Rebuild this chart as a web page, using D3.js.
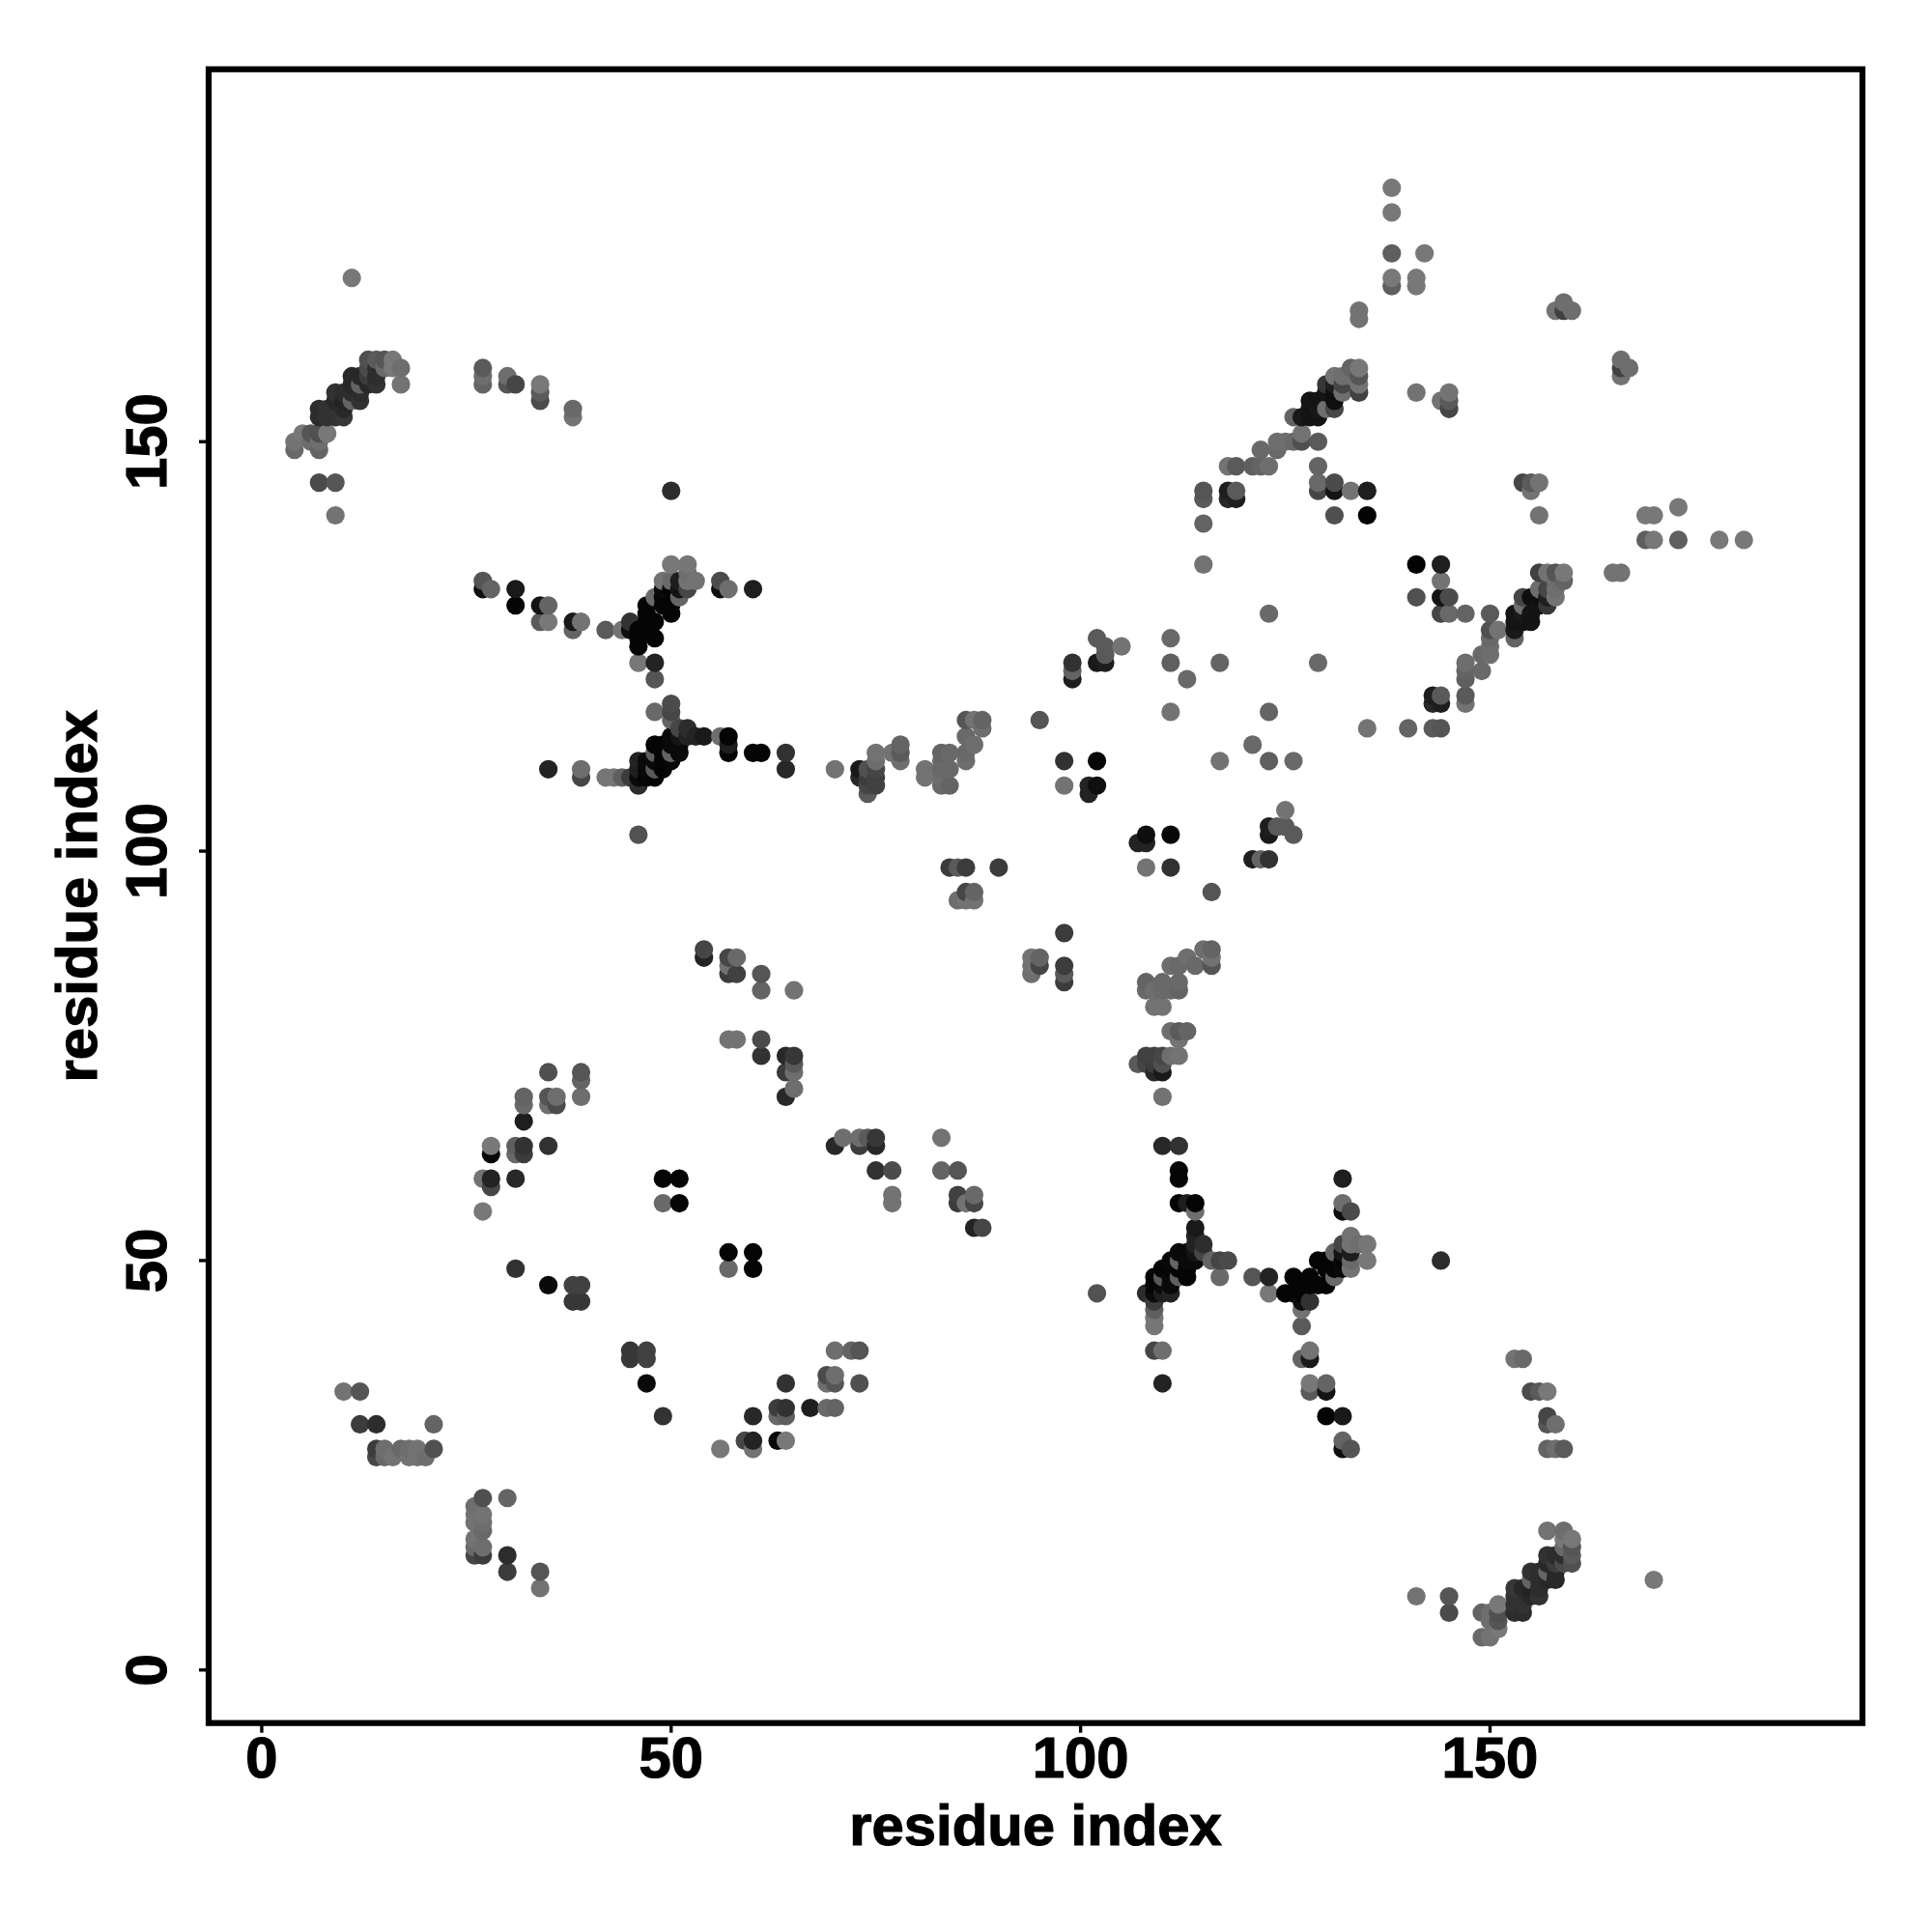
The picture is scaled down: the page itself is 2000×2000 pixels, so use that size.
<!DOCTYPE html>
<html><head><meta charset="utf-8">
<script src="https://cdn.jsdelivr.net/npm/d3@7/dist/d3.min.js"></script>
<style>html,body{margin:0;padding:0;background:#fff}svg{display:block}</style>
</head><body><svg id="c" width="2000" height="2000"></svg>
<script>
// Contacts as [residue i, residue j, grey shade]; the map is symmetric, so only i<j is listed.
const terminalContacts = [
[11,170,120],[4,149,105],[4,150,115],[5,151,120],[6,150,110],[6,151,85],[7,149,100],[7,150,110],[7,151,80],[8,151,120],
[7,153,45],[7,154,45],[8,153,50],[8,154,50],[9,153,50],[9,155,40],[9,156,50],[10,153,55],[10,154,40],[10,155,35],[10,156,45],
[11,155,100],[11,156,45],[11,157,40],[11,158,40],[12,155,50],[12,156,45],[12,157,100],[12,158,40],[13,157,40],[13,158,60],[13,159,75],[13,160,80],
[14,157,50],[14,158,45],[14,159,45],[14,160,90],[15,159,105],[15,160,85],[16,159,120],[16,160,120],[17,157,115],[17,159,110],
[7,145,75],[9,145,85],[9,141,115]
];
const earlyLongRange = [
[27,157,100],[27,158,110],[27,159,90],[30,157,85],[30,158,110],[31,157,70],[34,155,75],[34,156,90],[34,157,120],[38,153,115],[38,154,105],
[27,132,15],[27,133,85],[28,132,100],[31,130,5],[31,132,25],[34,128,90],[34,130,20],[35,128,120],[35,130,100],[38,127,100],[38,128,25],[39,128,115],[42,127,90],[44,127,115]
];
const upperCross = [
[45,127,15],[45,128,50],[46,123,120],[46,125,5],[46,126,5],[46,127,5],[47,127,5],[47,128,5],[47,129,5],[47,130,5],
[48,121,85],[48,123,35],[48,126,5],[48,128,5],[48,131,105],[49,130,5],[49,131,5],[49,132,10],[49,133,115],[50,129,5],[50,130,5],[50,132,5],[50,133,105],[50,135,120],
[51,131,100],[51,132,20],[51,133,30],[52,132,70],[52,133,115],[52,134,110],[52,135,118],[53,133,115],[56,132,15],[56,133,75],[57,132,110],[60,132,30],[50,144,45]
];
const lowerCross = [
[35,110,35],[39,109,70],[39,110,110],[42,109,118],[43,109,118],[44,109,95],[45,109,60],[46,102,82],[46,108,45],[46,109,10],[46,110,30],[46,111,35],
[47,109,5],[47,110,10],[47,111,10],[48,109,5],[48,110,90],[48,111,10],[48,112,95],[48,113,5],[49,110,5],[49,111,5],[49,112,5],[49,113,5],
[50,111,8],[50,112,100],[50,113,10],[50,114,10],[50,116,100],[50,117,70],[50,118,75],[48,117,105],[51,112,10],[51,113,10],[51,114,20],[51,115,70],
[52,114,35],[52,115,45],[53,114,35],[54,114,25],[56,114,110],[57,112,5],[57,113,30],[57,114,5],[60,112,5],[61,112,5],[64,110,40],[64,112,50]
];
const middleContacts = [
[70,110,115],[73,109,40],[73,110,25],[74,107,90],[74,108,70],[74,109,60],[74,110,80],[75,108,65],[75,109,65],[75,110,70],[75,111,110],[75,112,115],[77,112,115],[78,111,110],[78,112,90],[78,113,100],
[81,109,115],[81,110,115],[83,108,105],[83,109,110],[83,110,105],[83,111,105],[83,112,100],[84,108,100],[84,110,105],[84,112,105],[86,111,110],[86,112,105],[86,114,105],[87,113,110],[88,115,110],
[86,116,85],[87,116,115],[88,116,100],[95,116,85],[98,108,115],[98,111,50],[101,107,35],[101,108,35],[102,108,15],[102,111,8],
[84,98,60],[85,98,90],[86,98,60],[90,98,60],[85,94,110],[86,94,115],[86,95,70],[87,94,115],[87,95,100],
[99,121,30],[99,122,100],[99,123,50],[102,123,25],[102,126,90],[103,123,30],[103,124,90],[103,125,90],[105,125,115],
[111,117,115],[111,123,95],[111,126,105],[113,121,105],[117,123,100],[115,135,115],[115,140,100],[115,143,90],[115,144,85],
[118,143,40],[118,144,30],[119,143,30],[119,144,90],[118,147,115],[119,147,90],[121,147,95],[122,147,100],[123,147,110],[122,149,105],[123,129,105],
[124,149,105],[124,150,110],[125,150,110],[126,150,105],[127,150,80],[127,151,115],[129,150,90]
];
const secondCluster = [
[126,153,100],[127,153,25],[128,153,20],[128,154,20],[128,155,20],[129,153,20],[129,154,25],[129,155,20],[130,154,110],[130,156,20],[130,157,55],
[131,154,70],[131,155,15],[131,156,15],[131,157,30],[131,158,115],[132,156,110],[132,157,70],[132,158,110],[133,158,110],[133,159,100],[134,156,65],[134,157,115],[134,158,85],[134,159,120],
[134,165,115],[134,166,115],[129,144,70],[129,145,105],[129,147,100],[131,141,80],[131,144,20],[131,145,75],[133,144,115],[135,141,3],[135,144,30],
[141,156,115],[144,155,115],[145,154,70],[145,155,90],[145,156,115],
[138,169,95],[138,170,120],[138,173,95],[138,178,120],[138,181,120],[141,169,120],[141,170,120],[142,173,120],
[158,166,115],[159,166,65],[159,167,110],[160,166,110]
];
const hairpinContacts = [
[54,87,35],[54,88,70],[57,85,60],[57,86,115],[57,87,70],[58,85,65],[58,87,105],[57,77,115],[58,77,115],[61,75,50],[61,77,75],[61,83,100],[61,85,85],[65,83,115],
[64,70,40],[64,73,60],[64,75,40],[65,71,110],[65,73,110],[65,74,90],[65,75,55]
];
const sheetContacts = [
[35,73,80],[39,70,110],[39,72,100],[39,73,85],[32,67,30],[32,69,105],[32,70,100],[35,69,110],[35,70,85],[36,69,75],[36,70,110],
[28,63,8],[28,64,120],[31,63,105],[31,64,95],[32,63,60],[32,64,50],[35,64,50],[27,56,120],[27,60,115],[28,59,70],[28,60,35],[31,60,40],
[49,57,105],[49,60,5],[51,57,4],[51,60,4]
];
const shortRange = [
[31,49,50],[35,47,10],[38,45,55],[38,47,65],[39,45,55],[39,47,65]
];
const nTermContacts = [
[10,34,115],[12,34,85],[12,30,60],[14,30,45],[21,30,100],[14,26,70],[14,27,60],[15,26,105],[15,27,110],[16,26,115],[17,27,105],[18,26,115],[18,27,110],[19,26,115],[19,27,115],[20,26,110],[21,27,80]
];
const xTicks = [0, 50, 100, 150];
const yTicks = [0, 50, 100, 150];
const axisTitle = "residue index";

const upper = [].concat(terminalContacts, earlyLongRange, upperCross, lowerCross, middleContacts,
  secondCluster, hairpinContacts, sheetContacts, shortRange, nTermContacts);
const points = upper.flatMap(d => [{x:d[0], y:d[1], g:d[2]}, {x:d[1], y:d[0], g:d[2]}])
  .sort((a,b) => d3.ascending(a.x,b.x) || d3.ascending(a.y,b.y));

const L = 216, R = 1928, T = 71.7, B = 1783.7, FONT = "'Liberation Sans', Arial, sans-serif", FS = 59.8;
const x = d3.scaleLinear().domain([-6.48,195.48]).range([L,R]);
const y = d3.scaleLinear().domain([-6.48,195.48]).range([B,T]);
const svg = d3.select("#c");
svg.append("rect").attr("width",2000).attr("height",2000).attr("fill","#fff");

svg.append("g").selectAll("circle").data(points).join("circle")
  .attr("cx",d=>x(d.x)).attr("cy",d=>y(d.y)).attr("r",9.6)
  .attr("fill",d=>d3.rgb(d.g,d.g,d.g).formatHex());

const styleText = sel => sel.attr("font-family",FONT).attr("font-weight","bold").attr("font-size",FS)
  .attr("fill","#000").attr("stroke","#000").attr("stroke-width",1.2);

const gx = svg.append("g").attr("transform",`translate(0,${B})`)
  .call(d3.axisBottom(x).offset(0).tickValues(xTicks).tickFormat(d3.format("d")).tickSize(10).tickPadding(0));
gx.select(".domain").remove();
gx.selectAll("line").attr("stroke","#000").attr("stroke-width",3.4);
gx.selectAll("text").attr("y",null).attr("dy",null).attr("transform","translate(0,56.3)").call(styleText);

const gy = svg.append("g").attr("transform",`translate(${L},0)`)
  .call(d3.axisLeft(y).offset(0).tickValues(yTicks).tickFormat(d3.format("d")).tickSize(10).tickPadding(0));
gy.select(".domain").remove();
gy.selectAll("line").attr("stroke","#000").attr("stroke-width",3.4);
gy.selectAll("text").attr("x",null).attr("dy",null).attr("transform","translate(-44,0) rotate(-90)")
  .attr("text-anchor","middle").call(styleText);

svg.append("rect").attr("x",L).attr("y",T).attr("width",R-L).attr("height",B-T)
  .attr("fill","none").attr("stroke","#000").attr("stroke-width",6.2);

svg.append("text").attr("x",(L+R)/2).attr("y",1910).attr("text-anchor","middle").call(styleText).text(axisTitle);
svg.append("text").attr("transform",`translate(99.5,${(T+B)/2}) rotate(-90)`).attr("text-anchor","middle").call(styleText).text(axisTitle);
</script>
</body></html>
